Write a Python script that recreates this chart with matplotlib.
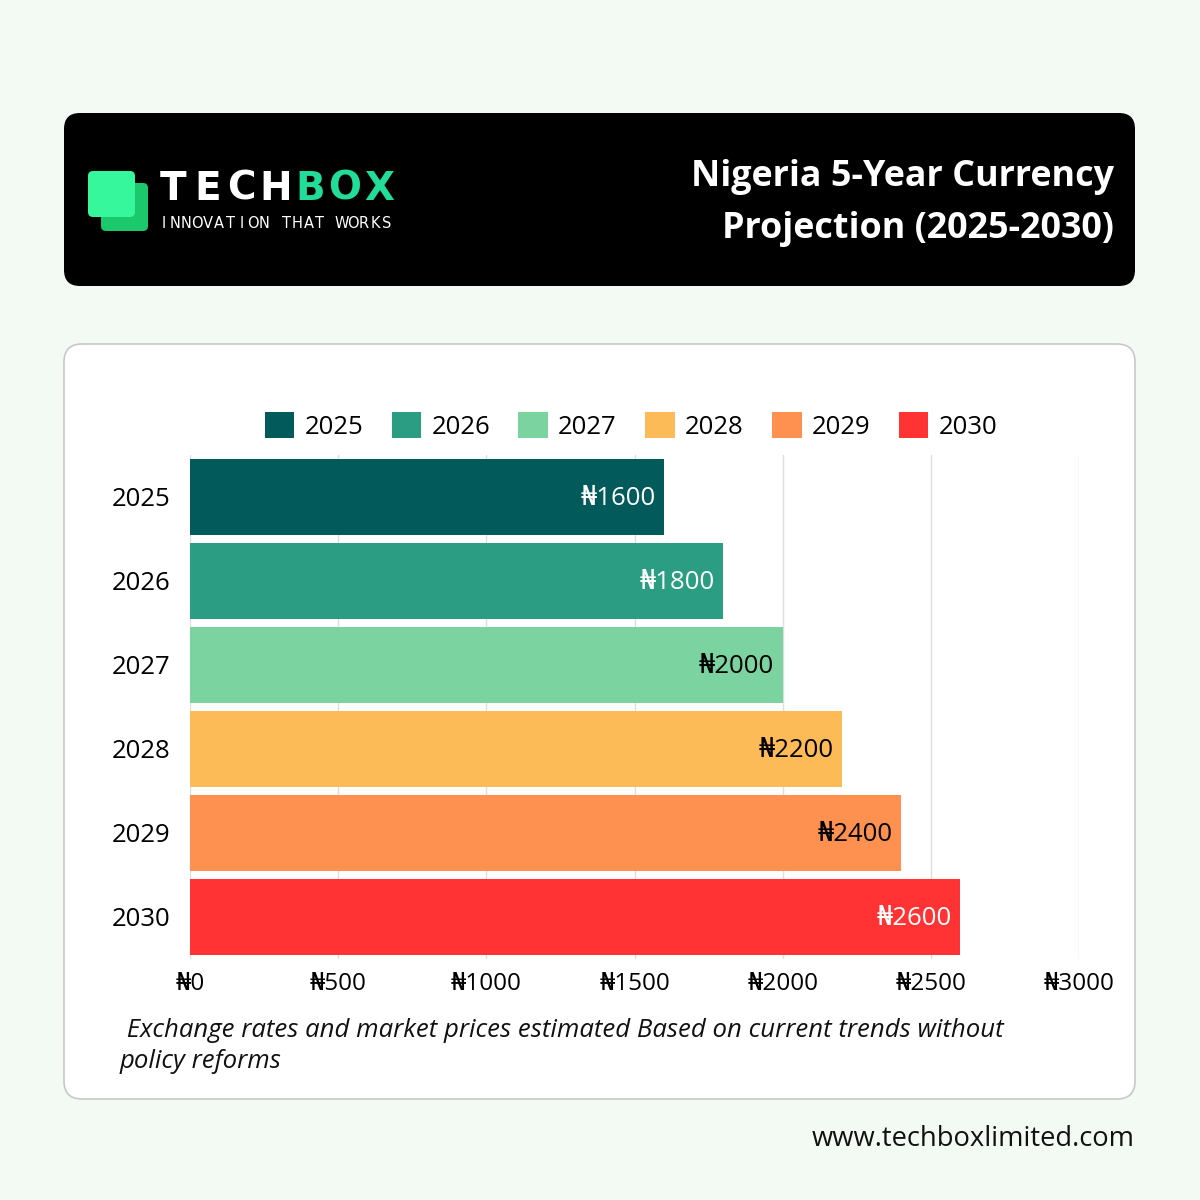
import matplotlib.pyplot as plt
from matplotlib.patches import FancyBboxPatch, Patch

# chart data
years = ['2025', '2026', '2027', '2028', '2029', '2030']
rates = [1600, 1800, 2000, 2200, 2400, 2600]
bar_colors = ['#025a5a', '#2a9d82', '#7bd3a0', '#fdbb58', '#fe914f', '#ff3333']
label_colors = ['white', 'white', 'black', 'black', 'black', 'white']
x_ticks = [0, 500, 1000, 1500, 2000, 2500, 3000]
x_tick_labels = ['₦' + str(v) for v in x_ticks]

title = 'Nigeria 5-Year Currency\nProjection (2025-2030)'
note = ' Exchange rates and market prices estimated Based on current trends without\npolicy reforms'
website = 'www.techboxlimited.com'

FONT = ['Open Sans', 'DejaVu Sans']
plt.rcParams['font.family'] = FONT

W = H = 1200
fig = plt.figure(figsize=(12, 12), dpi=100)
fig.patch.set_facecolor('#f3faf3')

# background layer in pixel coordinates (y downwards)
bg = fig.add_axes([0, 0, 1, 1], zorder=0)
bg.set_xlim(0, W)
bg.set_ylim(H, 0)
bg.axis('off')


def rbox(x0, y0, x1, y1, r, **kw):
    bg.add_patch(FancyBboxPatch((x0 + r, y0 + r), x1 - x0 - 2 * r, y1 - y0 - 2 * r,
                                boxstyle=f'round,pad={r}', **kw))


def spaced(txt, x0, x1, y, colors, size, weight='normal'):
    # spread letters evenly between x0 and x1 (logo lettering is wide-set)
    step = (x1 - x0) / len(txt)
    for i, ch in enumerate(txt):
        bg.text(x0 + (i + 0.5) * step, y, ch, color=colors[i], fontsize=size,
                family='DejaVu Sans', fontweight=weight, ha='center', va='center')


# header
rbox(64, 113, 1135, 286, 16, facecolor='black', edgecolor='none')
# logo squares
rbox(101, 183, 148, 231, 5, facecolor='#1bc86c', edgecolor='none')
rbox(88, 171, 135, 217, 5, facecolor='#36f79c', edgecolor='none')
spaced('TECHBOX', 156, 396, 189, ['white'] * 4 + ['#22dd99'] * 3, 28, 'bold')
spaced('INNOVATION THAT WORKS', 158, 392, 223, ['white'] * 21, 10.5)

bg.text(1114, 203, title, color='white', fontsize=25.8, fontweight='bold',
        ha='right', va='center', linespacing=1.6)

# card
rbox(64, 344, 1135, 1099, 18, facecolor='white', edgecolor='#c8c8c8', linewidth=1.2)

bg.text(120, 1046, note, fontsize=18.5, style='italic', color='#111111',
        ha='left', va='center', linespacing=1.33)
bg.text(1135, 1139, website, fontsize=19.7, color='#111111', ha='right', va='center')

# bar chart
ax = fig.add_axes([190 / W, 1 - 959 / H, 889 / W, 504 / H], zorder=1)
ax.patch.set_alpha(0)
ypos = list(range(len(years)))
bars = ax.barh(ypos, rates, height=0.905, color=bar_colors, zorder=2)
ax.set_xlim(0, 3000)
ax.set_ylim(len(years) - 0.5, -0.5)
ax.set_yticks(ypos)
ax.set_yticklabels(years)
ax.set_xticks(x_ticks)
ax.set_xticklabels(x_tick_labels)
ax.tick_params(axis='y', length=0, pad=14, labelsize=18.5)
ax.tick_params(axis='x', length=0, pad=9, labelsize=17.5)
ax.grid(axis='x', color='#dedede', linewidth=1, zorder=0)
for s in ax.spines.values():
    s.set_visible(False)

for b, v, c in zip(bars, rates, label_colors):
    ax.annotate('₦' + str(v), (v, b.get_y() + b.get_height() / 2),
                xytext=(-6, -1), textcoords='offset points',
                ha='right', va='center', color=c, fontsize=18.5, zorder=3)

handles = [Patch(facecolor=c, edgecolor='none') for c in bar_colors]
fig.legend(handles, years, loc='center', bbox_to_anchor=(631 / W, 1 - 426 / H),
           ncol=6, frameon=False, fontsize=18.5, handlelength=1.15,
           handleheight=1.15, handletextpad=0.4, columnspacing=1.1)

fig.savefig('out.png', dpi=100, facecolor=fig.get_facecolor())
